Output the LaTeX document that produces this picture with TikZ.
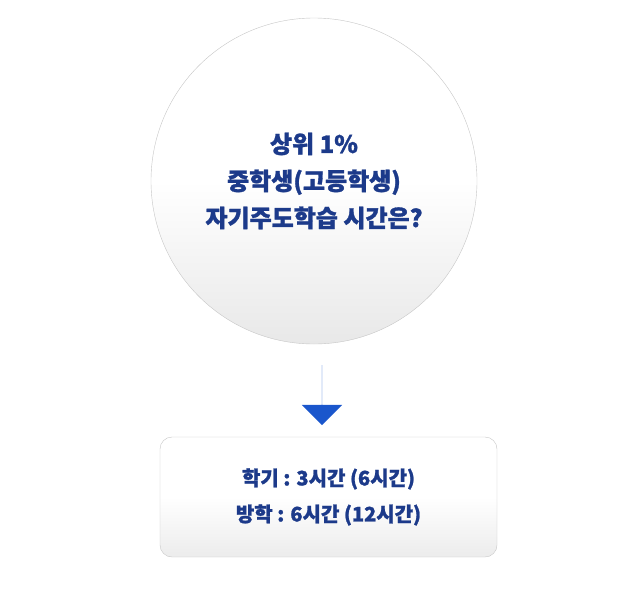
\documentclass[tikz,border=0pt]{standalone}
\usepackage{fontspec}
\newfontfamily\kr[FakeBold=1.2]{Noto Sans CJK KR}
\usetikzlibrary{positioning, shapes.arrows}
\definecolor{textblue}{RGB}{28,58,138}
\definecolor{arrowblue}{RGB}{26,86,204}
\tikzset{
    lbl/.style={font=\kr\bfseries\fontsize{24}{37}\selectfont, text=textblue, align=center},
}
\begin{document}
\begin{tikzpicture}[x=1pt, y=1pt]
    \useasboundingbox (0,0) rectangle (640,-600);
    % Circle
    \node[circle, draw=gray!45, minimum size=326pt, top color=white, bottom color=gray!18, middle color=white,
        lbl] (question) at (314,-181) {상위 1\%\\중학생(고등학생)\\자기주도학습 시간은?};

    % Arrow
    \node[single arrow, shape border rotate=270, fill=arrowblue, minimum height=60pt, minimum width=40pt,
        single arrow head extend=20pt, single arrow tip angle=90, inner sep=0pt] (down) at (322,-395) {};

    % Answer box
    \node[draw=gray!45, rounded corners=12pt, minimum width=337pt, minimum height=120pt,
        top color=white, bottom color=gray!15, middle color=white,
        lbl, font=\kr\bfseries\fontsize{20}{36}\selectfont] (answer) at (328.5,-497) {학기 : 3시간 (6시간)\\방학 : 6시간 (12시간)};
\end{tikzpicture}
\end{document}
